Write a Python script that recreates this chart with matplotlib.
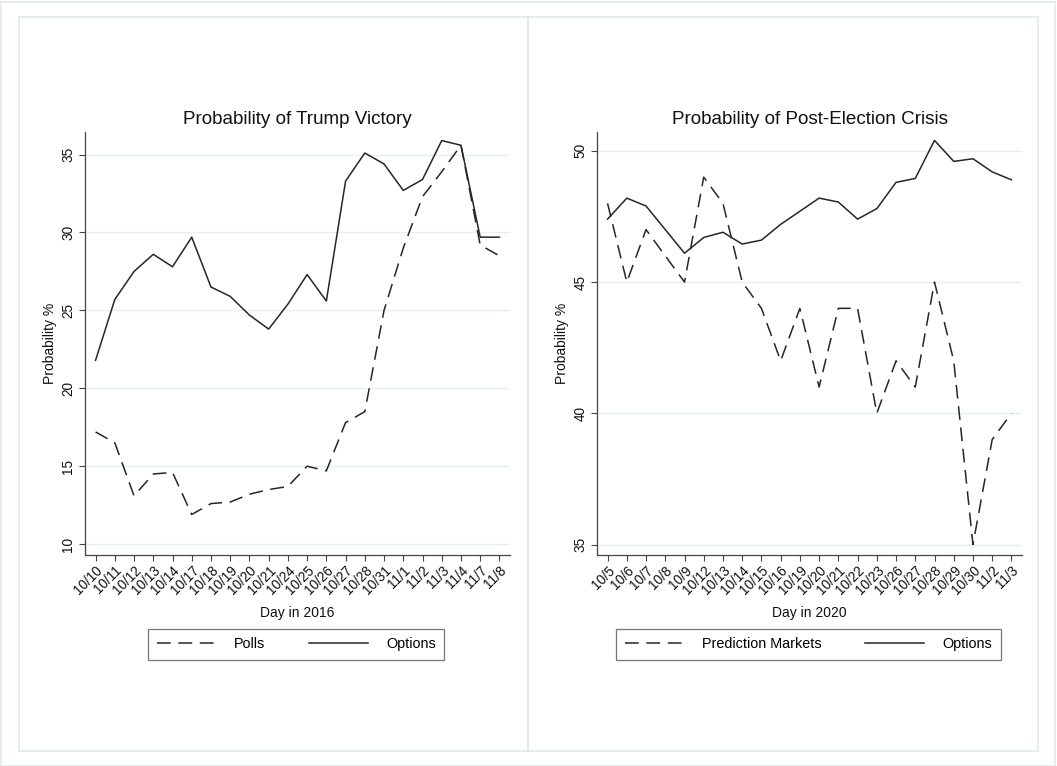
import matplotlib
matplotlib.use("Agg")
import matplotlib.pyplot as plt
from matplotlib.patches import Rectangle
from matplotlib.lines import Line2D

plt.rcParams["font.family"] = ["Liberation Sans", "DejaVu Sans"]

# 2016 election: probability of a Trump victory
days_2016 = ["10/10", "10/11", "10/12", "10/13", "10/14", "10/17", "10/18", "10/19",
             "10/20", "10/21", "10/24", "10/25", "10/26", "10/27", "10/28", "10/31",
             "11/1", "11/2", "11/3", "11/4", "11/7", "11/8"]
polls_2016 = [17.2, 16.5, 13.1, 14.5, 14.6, 11.9, 12.6, 12.7, 13.2, 13.5, 13.7,
              15.0, 14.7, 17.8, 18.5, 25.0, 29.0, 32.3, 33.9, 35.6, 29.2, 28.5]
options_2016 = [21.8, 25.7, 27.5, 28.6, 27.8, 29.7, 26.5, 25.9, 24.7, 23.8, 25.4,
                27.3, 25.6, 33.3, 35.1, 34.4, 32.7, 33.4, 35.9, 35.6, 29.7, 29.7]

# 2020 election: probability of a post-election crisis
days_2020 = ["10/5", "10/6", "10/7", "10/8", "10/9", "10/12", "10/13", "10/14",
             "10/15", "10/16", "10/19", "10/20", "10/21", "10/22", "10/23", "10/26",
             "10/27", "10/28", "10/29", "10/30", "11/2", "11/3"]
markets_2020 = [48, 45, 47, 46, 45, 49, 48, 45, 44, 42, 44, 41, 44, 44, 40, 42,
                41, 45, 42, 35, 39, 40]
options_2020 = [47.4, 48.2, 47.9, 47.0, 46.1, 46.7, 46.9, 46.45, 46.6, 47.2, 47.7,
                48.2, 48.05, 47.4, 47.8, 48.8, 48.95, 50.4, 49.6, 49.7, 49.2, 48.9]

W, H = 1057, 766
fig = plt.figure(figsize=(W / 100, H / 100), dpi=100)
fig.patch.set_facecolor("white")

frame_col = "#e3e9eb"
# outer frame and the two panel frames
fig.patches.append(Rectangle((1 / W, 0), 1054 / W, 1 - 2 / H, transform=fig.transFigure,
                             fill=False, ec=frame_col, lw=1.2))
for x0, x1 in [(19, 528), (528, 1038)]:
    fig.patches.append(Rectangle((x0 / W, 1 - 751 / H), (x1 - x0) / W, (751 - 17) / H,
                                 transform=fig.transFigure, fill=False, ec=frame_col, lw=1.2))

line_col = "#262626"
dash = (0, (9, 5))


def panel(rect, days, dashed, solid, ylim, yticks, title, xlabel, dash_label):
    ax = fig.add_axes(rect)
    x = list(range(len(days)))
    ax.plot(x, dashed, color=line_col, lw=1.1, linestyle=dash)
    ax.plot(x, solid, color=line_col, lw=1.1)
    ax.set_xlim(-0.55, len(days) - 1 + 0.55)
    ax.set_ylim(*ylim)
    ax.set_yticks(yticks)
    ax.set_yticklabels([str(v) for v in yticks], rotation=90, va="center")
    ax.set_xticks(x)
    ax.set_xticklabels(days, rotation=45, ha="right", rotation_mode="anchor")
    for s in ["top", "right"]:
        ax.spines[s].set_visible(False)
    for s in ["left", "bottom"]:
        ax.spines[s].set_color("#444444")
        ax.spines[s].set_linewidth(0.9)
    ax.tick_params(axis="both", colors="#444444", labelcolor="#111111",
                   labelsize=9.8, length=4, width=0.8)
    ax.tick_params(axis="x", pad=2)
    ax.tick_params(axis="y", pad=3)
    ax.grid(axis="y", color="#e6eff1", lw=1.0)
    ax.set_axisbelow(True)
    ax.set_title(title, fontsize=13.6, color="#111111", pad=6)
    ax.set_xlabel(xlabel, fontsize=10, color="#111111", labelpad=6)
    ax.set_ylabel("Probability %", fontsize=10, color="#111111", labelpad=3)
    handles = [Line2D([], [], color=line_col, lw=1.1, linestyle=dash),
               Line2D([], [], color=line_col, lw=1.1)]
    leg = ax.legend(handles, [dash_label, "Options"], ncol=2, loc="center",
                    bbox_to_anchor=(0.497, -0.211), fancybox=False, frameon=True,
                    edgecolor="#555555", fontsize=10.4, handlelength=4.1,
                    columnspacing=3.0, handletextpad=1.25, borderpad=0.6)
    leg.get_frame().set_linewidth(0.9)
    return ax


ax_l = panel([85 / W, 1 - 555 / H, 425 / W, 423 / H], days_2016, polls_2016, options_2016,
             (9.3, 36.45), [10, 15, 20, 25, 30, 35],
             "Probability of Trump Victory", "Day in 2016", "Polls")
ax_r = panel([597 / W, 1 - 555 / H, 425 / W, 423 / H], days_2020, markets_2020, options_2020,
             (34.6, 50.72), [35, 40, 45, 50],
             "Probability of Post-Election Crisis", "Day in 2020", "Prediction Markets")

fig.savefig("out.png", dpi=100)
